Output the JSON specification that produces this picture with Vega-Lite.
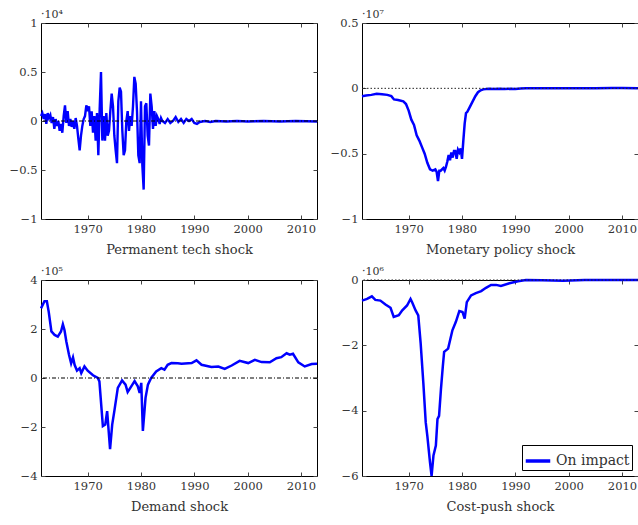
{
  "$schema": "https://vega.github.io/schema/vega-lite/v6.json",
  "padding": {"left": 4, "top": 8, "right": 0, "bottom": 0},
  "config": {
    "font": "DejaVu Serif",
    "view": {"stroke": "#000", "strokeWidth": 1},
    "axis": {"domain": false, "grid": false, "tickSize": -4, "tickColor": "#444", "labelFont": "DejaVu Serif", "labelFontSize": 11.5, "labelColor": "#333", "titleFont": "DejaVu Serif", "titleFontSize": 13, "titleFontWeight": "normal", "titleColor": "#333", "labelPadding": 8, "titlePadding": 9},
    "title": {"font": "DejaVu Serif", "fontSize": 11, "fontWeight": "normal", "anchor": "start", "frame": "group", "color": "#333", "offset": -3},
    "legend": {"labelFont": "DejaVu Serif", "labelFontSize": 14, "labelColor": "#333", "strokeColor": "#000", "fillColor": "#fff", "padding": 2, "symbolType": "stroke", "symbolStrokeWidth": 3.5, "symbolSize": 600, "title": null}
  },
  "datasets": {
    "tech": [
      {"year":1961.25,"value":0.05},{"year":1961.5,"value":0.08},{"year":1961.75,"value":0.02},{"year":1962,"value":0.07},{"year":1962.25,"value":-0.03},{"year":1962.5,"value":0.08},{"year":1962.75,"value":0.03},{"year":1963,"value":0.06},{"year":1963.25,"value":-0.02},{"year":1963.5,"value":0.04},{"year":1963.75,"value":-0.08},{"year":1964,"value":0.02},{"year":1964.25,"value":-0.05},{"year":1964.5,"value":0},{"year":1964.75,"value":-0.1},{"year":1965,"value":-0.03},{"year":1965.25,"value":-0.12},{"year":1965.5,"value":0.05},{"year":1965.75,"value":0.16},{"year":1966,"value":-0.02},{"year":1966.25,"value":0.1},{"year":1966.5,"value":-0.05},{"year":1966.75,"value":0.02},{"year":1967,"value":-0.06},{"year":1967.25,"value":0},{"year":1967.5,"value":-0.08},{"year":1967.75,"value":0.03},{"year":1968,"value":-0.05},{"year":1968.25,"value":-0.18},{"year":1968.5,"value":-0.3},{"year":1968.75,"value":-0.15},{"year":1969,"value":-0.05},{"year":1969.25,"value":0.02},{"year":1969.5,"value":0.05},{"year":1969.75,"value":0.16},{"year":1970,"value":0.1},{"year":1970.25,"value":0.15},{"year":1970.5,"value":-0.05},{"year":1970.75,"value":0.1},{"year":1971,"value":-0.12},{"year":1971.25,"value":0.05},{"year":1971.5,"value":-0.2},{"year":1971.75,"value":0.08},{"year":1972,"value":-0.35},{"year":1972.25,"value":0.12},{"year":1972.5,"value":0.5},{"year":1972.75,"value":-0.2},{"year":1973,"value":0.05},{"year":1973.25,"value":-0.2},{"year":1973.5,"value":0.08},{"year":1973.75,"value":-0.15},{"year":1974,"value":-0.1},{"year":1974.25,"value":0.1},{"year":1974.5,"value":0.28},{"year":1974.75,"value":0.15},{"year":1975,"value":-0.15},{"year":1975.25,"value":-0.3},{"year":1975.5,"value":-0.43},{"year":1975.75,"value":0.2},{"year":1976,"value":0.34},{"year":1976.25,"value":0.3},{"year":1976.5,"value":-0.1},{"year":1976.75,"value":-0.35},{"year":1977,"value":-0.3},{"year":1977.25,"value":0},{"year":1977.5,"value":0.1},{"year":1977.75,"value":-0.1},{"year":1978,"value":0.05},{"year":1978.25,"value":-0.05},{"year":1978.5,"value":0.15},{"year":1978.75,"value":0.45},{"year":1979,"value":0.38},{"year":1979.25,"value":0.1},{"year":1979.5,"value":-0.35},{"year":1979.75,"value":-0.43},{"year":1980,"value":0.2},{"year":1980.25,"value":-0.45},{"year":1980.5,"value":-0.7},{"year":1980.75,"value":0.15},{"year":1981,"value":0.18},{"year":1981.25,"value":-0.15},{"year":1981.5,"value":-0.25},{"year":1981.75,"value":0.28},{"year":1982,"value":0.15},{"year":1982.25,"value":-0.08},{"year":1982.5,"value":0.1},{"year":1982.75,"value":-0.05},{"year":1983,"value":0.05},{"year":1983.25,"value":0.02},{"year":1983.5,"value":-0.03},{"year":1983.75,"value":0.03},{"year":1984,"value":0},{"year":1984.5,"value":-0.02},{"year":1985,"value":0.02},{"year":1985.5,"value":-0.02},{"year":1986,"value":0},{"year":1986.5,"value":0.04},{"year":1987,"value":-0.01},{"year":1987.5,"value":0.02},{"year":1988,"value":-0.02},{"year":1988.5,"value":0.02},{"year":1989,"value":0},{"year":1989.5,"value":0.02},{"year":1990,"value":-0.02},{"year":1990.5,"value":-0.03},{"year":1991,"value":-0.01},{"year":1992,"value":0},{"year":1993,"value":-0.01},{"year":1994,"value":0},{"year":1996,"value":-0.005},{"year":1998,"value":0},{"year":2000,"value":-0.005},{"year":2003,"value":0},{"year":2006,"value":-0.005},{"year":2009,"value":0},{"year":2013,"value":-0.005}
    ],
    "mon": [
      {"year":1961.25,"value":-0.06},{"year":1962,"value":-0.055},{"year":1963,"value":-0.05},{"year":1964,"value":-0.042},{"year":1965,"value":-0.045},{"year":1966,"value":-0.05},{"year":1966.75,"value":-0.06},{"year":1967.25,"value":-0.085},{"year":1968,"value":-0.09},{"year":1969,"value":-0.1},{"year":1969.5,"value":-0.12},{"year":1970,"value":-0.17},{"year":1970.5,"value":-0.24},{"year":1971,"value":-0.28},{"year":1971.5,"value":-0.36},{"year":1972,"value":-0.4},{"year":1972.5,"value":-0.45},{"year":1973,"value":-0.5},{"year":1973.5,"value":-0.57},{"year":1974,"value":-0.62},{"year":1974.5,"value":-0.63},{"year":1975,"value":-0.62},{"year":1975.25,"value":-0.64},{"year":1975.5,"value":-0.71},{"year":1975.75,"value":-0.63},{"year":1976,"value":-0.63},{"year":1976.5,"value":-0.61},{"year":1976.75,"value":-0.63},{"year":1977,"value":-0.6},{"year":1977.25,"value":-0.56},{"year":1977.5,"value":-0.51},{"year":1977.75,"value":-0.55},{"year":1978,"value":-0.49},{"year":1978.25,"value":-0.53},{"year":1978.5,"value":-0.48},{"year":1978.75,"value":-0.48},{"year":1979,"value":-0.54},{"year":1979.25,"value":-0.47},{"year":1979.5,"value":-0.49},{"year":1979.75,"value":-0.46},{"year":1980,"value":-0.54},{"year":1980.25,"value":-0.4},{"year":1980.5,"value":-0.27},{"year":1980.75,"value":-0.19},{"year":1981,"value":-0.18},{"year":1981.5,"value":-0.14},{"year":1982,"value":-0.1},{"year":1982.5,"value":-0.06},{"year":1983,"value":-0.03},{"year":1983.5,"value":-0.015},{"year":1984,"value":-0.008},{"year":1985,"value":-0.003},{"year":1986,"value":-0.005},{"year":1987,"value":-0.004},{"year":1988,"value":-0.006},{"year":1989,"value":-0.004},{"year":1990,"value":-0.006},{"year":1991,"value":-0.002},{"year":1992,"value":0.001},{"year":1995,"value":0},{"year":2000,"value":0},{"year":2005,"value":0.001},{"year":2008,"value":0.003},{"year":2010,"value":0.002},{"year":2013,"value":0}
    ],
    "dem": [
      {"year":1961.25,"value":2.84},{"year":1961.9,"value":3.13},{"year":1962.35,"value":3.13},{"year":1962.7,"value":2.7},{"year":1963.2,"value":1.9},{"year":1963.8,"value":1.76},{"year":1964.4,"value":1.69},{"year":1965,"value":1.9},{"year":1965.35,"value":2.19},{"year":1965.65,"value":1.96},{"year":1966,"value":1.49},{"year":1966.5,"value":0.95},{"year":1966.9,"value":0.6},{"year":1967.25,"value":0.84},{"year":1967.55,"value":0.54},{"year":1968,"value":0.3},{"year":1968.5,"value":0.4},{"year":1968.8,"value":0.2},{"year":1969.4,"value":0.47},{"year":1970,"value":0.3},{"year":1971,"value":0.11},{"year":1971.9,"value":0},{"year":1972.2,"value":-0.14},{"year":1972.85,"value":-1.96},{"year":1973.3,"value":-1.9},{"year":1973.65,"value":-1.35},{"year":1974.2,"value":-2.9},{"year":1974.6,"value":-1.9},{"year":1975,"value":-1.35},{"year":1975.65,"value":-0.4},{"year":1976.45,"value":-0.1},{"year":1977.1,"value":-0.27},{"year":1977.5,"value":-0.57},{"year":1978,"value":-0.4},{"year":1978.8,"value":-0.13},{"year":1979.4,"value":-0.34},{"year":1979.75,"value":-0.61},{"year":1980.05,"value":-0.2},{"year":1980.35,"value":-2.16},{"year":1980.85,"value":-0.81},{"year":1981.3,"value":-0.27},{"year":1981.9,"value":0},{"year":1982.85,"value":0.27},{"year":1983.8,"value":0.4},{"year":1984.4,"value":0.34},{"year":1985,"value":0.54},{"year":1985.7,"value":0.61},{"year":1986.9,"value":0.6},{"year":1987.6,"value":0.58},{"year":1989.5,"value":0.61},{"year":1990.4,"value":0.72},{"year":1991.35,"value":0.54},{"year":1993.2,"value":0.45},{"year":1994.5,"value":0.47},{"year":1995.7,"value":0.37},{"year":1997,"value":0.51},{"year":1998.5,"value":0.7},{"year":2000.1,"value":0.61},{"year":2001.35,"value":0.74},{"year":2002.6,"value":0.65},{"year":2004.15,"value":0.64},{"year":2005.4,"value":0.81},{"year":2006.3,"value":0.85},{"year":2007.3,"value":1.01},{"year":2007.9,"value":0.95},{"year":2008.5,"value":0.99},{"year":2009.5,"value":0.64},{"year":2010.7,"value":0.47},{"year":2012,"value":0.57},{"year":2013,"value":0.58}
    ],
    "cost": [
      {"year":1961.25,"value":-0.63},{"year":1962.2,"value":-0.58},{"year":1963.1,"value":-0.5},{"year":1963.75,"value":-0.61},{"year":1964.7,"value":-0.63},{"year":1965.65,"value":-0.75},{"year":1966.6,"value":-0.85},{"year":1967.2,"value":-1.13},{"year":1968.15,"value":-1.08},{"year":1968.8,"value":-0.93},{"year":1969.7,"value":-0.78},{"year":1970.35,"value":-0.58},{"year":1970.65,"value":-0.68},{"year":1971.3,"value":-0.93},{"year":1971.8,"value":-1.08},{"year":1972.25,"value":-1.94},{"year":1972.75,"value":-3.15},{"year":1973.2,"value":-4.36},{"year":1973.5,"value":-4.77},{"year":1974,"value":-5.58},{"year":1974.3,"value":-6},{"year":1974.65,"value":-5.37},{"year":1975.1,"value":-5.07},{"year":1975.4,"value":-4.26},{"year":1975.7,"value":-4.16},{"year":1976.05,"value":-3.35},{"year":1976.4,"value":-2.65},{"year":1976.65,"value":-2.2},{"year":1977.4,"value":-2.1},{"year":1978.2,"value":-1.54},{"year":1978.85,"value":-1.28},{"year":1979.5,"value":-0.95},{"year":1980.1,"value":-0.98},{"year":1980.5,"value":-1.18},{"year":1980.9,"value":-0.68},{"year":1981.7,"value":-0.47},{"year":1982.6,"value":-0.4},{"year":1983.6,"value":-0.34},{"year":1984.5,"value":-0.24},{"year":1985.45,"value":-0.15},{"year":1986.4,"value":-0.15},{"year":1987.3,"value":-0.18},{"year":1988.9,"value":-0.1},{"year":1990.5,"value":-0.04},{"year":1992,"value":0},{"year":1995,"value":-0.01},{"year":1999,"value":-0.02},{"year":2003,"value":0},{"year":2013,"value":0}
    ]
  },
  "columns": 2,
  "spacing": {"column": 2, "row": 8},
  "resolve": {"scale": {"color": "independent"}},
  "concat": [
    {
      "width": 276, "height": 196,
      "title": {"text": "·10⁴"},
      "data": {"name": "tech"},
      "resolve": {"axis": {"x": "independent", "y": "independent"}},
      "layer": [
        {"mark": {"type": "line", "color": "#0000ff", "strokeWidth": 2.4},
         "encoding": {
           "x": {"field": "year", "type": "quantitative", "scale": {"domain": [1961.25, 2013], "nice": false, "zero": false}, "axis": {"values": [1970, 1980, 1990, 2000, 2010], "format": "d", "title": "Permanent tech shock"}},
           "y": {"field": "value", "type": "quantitative", "scale": {"domain": [-1, 1], "nice": false}, "axis": {"values": [-1, -0.5, 0, 0.5, 1], "format": "~g", "title": null, "minExtent": 36, "maxExtent": 36}}}},
        {"data": {"values": [{}]}, "mark": {"type": "rule", "color": "#000", "strokeWidth": 1.2, "strokeDash": [4, 2, 1, 2]},
         "encoding": {"y": {"datum": 0, "type": "quantitative", "axis": null}}},
        {"mark": {"type": "line", "opacity": 0},
         "encoding": {
           "x": {"field": "year", "type": "quantitative", "axis": {"orient": "top", "values": [1970, 1980, 1990, 2000, 2010], "labels": false, "title": null, "minExtent": 0, "maxExtent": 0}},
           "y": {"field": "value", "type": "quantitative", "axis": {"orient": "right", "values": [-1, -0.5, 0, 0.5, 1], "labels": false, "title": null, "minExtent": 0, "maxExtent": 0}}}}
      ]
    },
    {
      "width": 276, "height": 196,
      "title": {"text": "·10⁷"},
      "data": {"name": "mon"},
      "resolve": {"axis": {"x": "independent", "y": "independent"}},
      "layer": [
        {"mark": {"type": "line", "color": "#0000ff", "strokeWidth": 2.5},
         "encoding": {
           "x": {"field": "year", "type": "quantitative", "scale": {"domain": [1961.25, 2013], "nice": false, "zero": false}, "axis": {"values": [1970, 1980, 1990, 2000, 2010], "format": "d", "title": "Monetary policy shock"}},
           "y": {"field": "value", "type": "quantitative", "scale": {"domain": [-1, 0.5], "nice": false}, "axis": {"values": [-1, -0.5, 0, 0.5], "format": "~g", "title": null, "minExtent": 36, "maxExtent": 36}}}},
        {"data": {"values": [{}]}, "mark": {"type": "rule", "color": "#222", "strokeWidth": 1, "strokeDash": [1.5, 2]},
         "encoding": {"y": {"datum": 0, "type": "quantitative", "axis": null}}},
        {"mark": {"type": "line", "opacity": 0},
         "encoding": {
           "x": {"field": "year", "type": "quantitative", "axis": {"orient": "top", "values": [1970, 1980, 1990, 2000, 2010], "labels": false, "title": null, "minExtent": 0, "maxExtent": 0}},
           "y": {"field": "value", "type": "quantitative", "axis": {"orient": "right", "values": [-1, -0.5, 0, 0.5], "labels": false, "title": null, "minExtent": 0, "maxExtent": 0}}}}
      ]
    },
    {
      "width": 276, "height": 196,
      "title": {"text": "·10⁵"},
      "data": {"name": "dem"},
      "resolve": {"axis": {"x": "independent", "y": "independent"}},
      "layer": [
        {"mark": {"type": "line", "color": "#0000ff", "strokeWidth": 2.5},
         "encoding": {
           "x": {"field": "year", "type": "quantitative", "scale": {"domain": [1961.25, 2013], "nice": false, "zero": false}, "axis": {"values": [1970, 1980, 1990, 2000, 2010], "format": "d", "title": "Demand shock"}},
           "y": {"field": "value", "type": "quantitative", "scale": {"domain": [-4, 4], "nice": false}, "axis": {"values": [-4, -2, 0, 2, 4], "format": "~g", "title": null, "minExtent": 36, "maxExtent": 36}}}},
        {"data": {"values": [{}]}, "mark": {"type": "rule", "color": "#000", "strokeWidth": 1.2, "strokeDash": [4, 2, 1, 2]},
         "encoding": {"y": {"datum": 0, "type": "quantitative", "axis": null}}},
        {"mark": {"type": "line", "opacity": 0},
         "encoding": {
           "x": {"field": "year", "type": "quantitative", "axis": {"orient": "top", "values": [1970, 1980, 1990, 2000, 2010], "labels": false, "title": null, "minExtent": 0, "maxExtent": 0}},
           "y": {"field": "value", "type": "quantitative", "axis": {"orient": "right", "values": [-4, -2, 0, 2, 4], "labels": false, "title": null, "minExtent": 0, "maxExtent": 0}}}}
      ]
    },
    {
      "width": 276, "height": 196,
      "title": {"text": "·10⁶"},
      "data": {"name": "cost"},
      "resolve": {"axis": {"x": "independent", "y": "independent"}},
      "layer": [
        {"mark": {"type": "line", "strokeWidth": 2.5},
         "encoding": {
           "x": {"field": "year", "type": "quantitative", "scale": {"domain": [1961.25, 2013], "nice": false, "zero": false}, "axis": {"values": [1970, 1980, 1990, 2000, 2010], "format": "d", "title": "Cost-push shock"}},
           "y": {"field": "value", "type": "quantitative", "scale": {"domain": [-6, 0], "nice": false}, "axis": {"values": [-6, -4, -2, 0], "format": "~g", "title": null, "minExtent": 36, "maxExtent": 36}},
           "color": {"datum": "On impact", "type": "nominal", "scale": {"range": ["#0000ff"]}, "legend": {"orient": "bottom-right", "offset": 6}}}},
        {"data": {"values": [{}]}, "mark": {"type": "rule", "color": "#222", "strokeWidth": 1, "strokeDash": [1.5, 2]},
         "encoding": {"y": {"datum": 0, "type": "quantitative", "axis": null}}},
        {"mark": {"type": "line", "opacity": 0},
         "encoding": {
           "x": {"field": "year", "type": "quantitative", "axis": {"orient": "top", "values": [1970, 1980, 1990, 2000, 2010], "labels": false, "title": null, "minExtent": 0, "maxExtent": 0}},
           "y": {"field": "value", "type": "quantitative", "axis": {"orient": "right", "values": [-6, -4, -2, 0], "labels": false, "title": null, "minExtent": 0, "maxExtent": 0}}}}
      ]
    }
  ]
}
